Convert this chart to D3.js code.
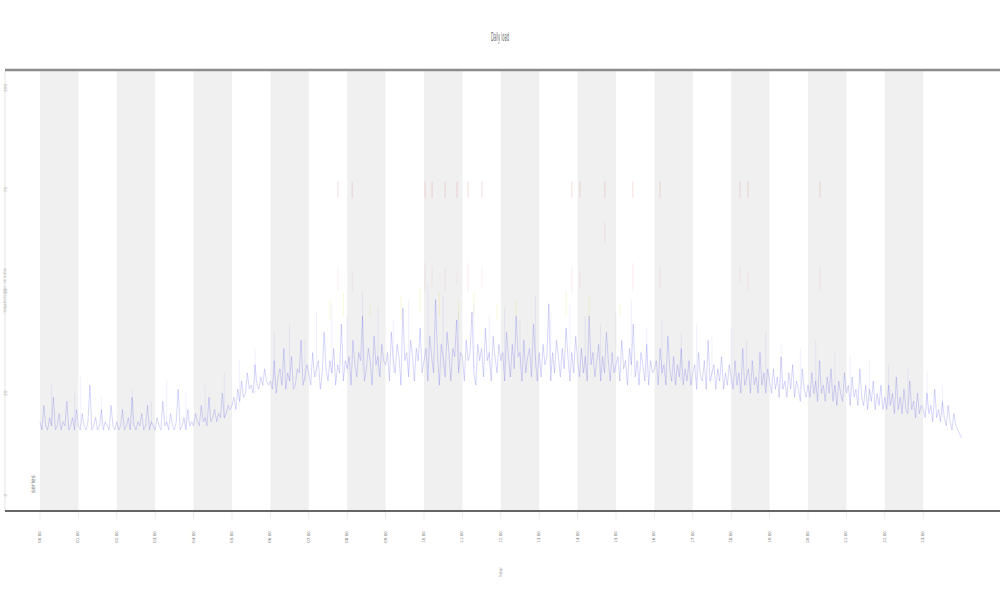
<!DOCTYPE html>
<html>
<head>
<meta charset="utf-8">
<script src="https://cdn.jsdelivr.net/npm/d3@7"></script>
<style>
  body { margin: 0; background: #fff; }
  text { font-family: "DejaVu Sans", sans-serif; fill: #444; }
</style>
</head>
<body>
<div id="chart"></div>
<script>
// tamaño del lienzo
var chart_width = 1000;
var chart_height = 600;

// categorias del eje x (horas)
var horas = d3.range(0, 24);
var etiquetasX = horas.map(function (h) { return (h < 10 ? "0" + h : h) + ":00"; });
var ticksY = [0, 25, 50, 75, 100];

// serie principal, 20 valores por hora
var serieAzul = [
  18,16,22,17,16,19,17,24,16,17,20,16,18,17,23,16,17,19,16,21,
  17,16,20,17,16,18,27,16,17,19,16,17,21,16,18,17,16,22,17,16,
  18,16,17,21,16,17,19,16,24,17,16,18,17,20,16,17,22,16,18,17,
  16,19,17,16,23,17,18,16,20,17,16,18,26,16,17,19,16,21,17,18,
  17,20,18,17,22,18,19,17,24,18,19,21,18,20,19,25,19,20,22,21,
  22,24,21,26,23,28,24,25,30,26,27,25,32,27,26,29,27,31,28,27,
  28,26,33,25,29,31,27,36,26,30,28,34,26,27,31,30,38,27,29,32,
  30,27,35,29,31,33,26,30,40,31,28,33,30,36,27,32,30,42,28,33,
  31,34,27,38,32,29,35,33,44,28,31,36,33,27,39,32,34,29,37,33,
  32,35,28,40,33,30,37,34,27,46,33,35,29,38,34,28,36,33,41,30,
  33,36,28,39,34,30,48,35,27,37,34,29,40,35,28,36,34,43,30,35,
  34,28,38,33,35,45,30,27,37,33,36,29,41,33,35,28,39,34,30,37,
  33,35,28,40,34,29,37,31,44,34,35,28,38,30,34,36,29,42,34,28,
  35,29,37,32,34,47,28,35,30,38,34,29,36,31,41,34,28,35,30,39,
  33,29,36,30,34,28,44,32,35,29,33,37,28,34,30,40,33,28,35,30,
  32,34,28,38,31,33,27,36,32,42,29,33,27,35,32,28,37,27,33,30,
  31,33,27,36,30,32,27,39,31,28,34,27,32,29,36,27,31,28,33,27,
  30,32,26,35,29,28,33,26,38,28,30,32,26,31,28,34,26,30,27,32,
  29,26,33,27,30,25,36,27,29,31,25,33,27,29,25,35,27,30,25,31,
  28,25,31,26,29,24,34,26,28,24,30,26,32,24,28,26,23,31,26,24,
  27,24,30,25,28,23,33,25,27,23,29,25,31,23,27,22,28,25,23,30,
  25,27,22,29,24,26,22,31,24,22,27,21,26,23,28,21,25,22,27,21,
  24,21,27,22,25,20,29,21,24,20,26,21,20,28,21,23,19,25,20,22,
  21,19,25,20,22,18,26,19,21,18,23,19,17,22,18,16,20,17,16,15,
  14
];

// picos tenues de la serie azul (hora, valor base, valor alto)
var picoHora = [0.3, 0.9, 1.05, 1.6, 2.4, 2.9, 3.3, 3.8, 4.3, 4.8, 5.2, 5.6, 6.1, 6.5, 6.9, 7.2, 7.6, 8.0, 8.4, 8.8,
  9.2, 9.6, 10.1, 10.5, 10.9, 11.3, 11.7, 12.1, 12.5, 12.9, 13.3, 13.8, 14.2, 14.6, 15.0, 15.4, 15.8, 16.2, 16.7, 17.1,
  17.5, 18.0, 18.4, 18.9, 19.3, 19.8, 20.2, 20.7, 21.1, 21.6, 22.1, 22.6, 23.1, 23.5];
var picoBase = [17, 17, 17, 17, 17, 17, 17, 17, 18, 19, 22, 25, 27, 28, 28, 29, 29, 30, 30, 30,
  30, 30, 31, 31, 31, 31, 31, 31, 31, 31, 31, 30, 30, 30, 30, 29, 29, 29, 28, 28,
  28, 27, 27, 27, 26, 26, 25, 25, 24, 23, 22, 22, 21, 19];
var picoAlto = [27, 25, 29, 24, 26, 23, 28, 25, 27, 30, 33, 36, 40, 42, 38, 45, 47, 44, 50, 46,
  43, 48, 52, 49, 45, 47, 44, 46, 43, 49, 45, 47, 44, 42, 45, 48, 41, 43, 40, 42,
  39, 41, 38, 40, 37, 36, 38, 35, 34, 33, 32, 31, 30, 27];

// picos rojos (hora, valor bajo, valor alto)
var rojoHora = [7.76, 8.13, 10.03, 10.21, 10.55, 10.86, 11.15, 11.51, 13.85, 14.06, 14.71, 15.44, 16.15, 18.23, 18.44, 20.31];
var rojoAltoMin = [73, 73, 73, 73, 73, 73, 73, 73, 73, 73, 73, 73, 73, 73, 73, 73];
var rojoAltoMax = [77, 77, 77, 77, 77, 77, 77, 77, 77, 77, 77, 77, 77, 77, 77, 77];
var rojoBajoMin = [50, 50, 50, 51, 50, 52, 50, 51, 50, 51, 62, 50, 51, 52, 50, 50];
var rojoBajoMax = [56, 55, 57, 56, 56, 55, 57, 56, 56, 55, 67, 57, 56, 56, 55, 56];

// picos amarillos
var amarilloHora = [7.55, 7.9, 8.6, 9.4, 9.9, 10.4, 10.9, 11.3, 11.9, 12.4, 13.7, 14.3, 15.1];
var amarilloMin = [43, 44, 44, 43, 45, 44, 43, 44, 43, 44, 44, 43, 44];
var amarilloMax = [48, 50, 47, 49, 51, 50, 48, 50, 47, 48, 50, 49, 47];

var svg = d3.select("#chart")
  .append("svg")
  .attr("width", chart_width)
  .attr("height", chart_height);

var escalaX = d3.scaleLinear()
  .domain([-0.911, 25])
  .range([5, 1000]);

var escalaY = d3.scaleLinear()
  .domain([0, 100])
  .range([495, 88]);

var top_y = 71;
var bottom_y = 511;

// bandas grises alternas
svg.append("g")
  .selectAll("rect")
  .data(horas.filter(function (h) { return h % 2 == 0; }))
  .enter()
  .append("rect")
  .attr("x", function (d) { return escalaX(d); })
  .attr("width", function (d) { return escalaX(d + 1) - escalaX(d); })
  .attr("y", top_y)
  .attr("height", bottom_y - top_y)
  .style("fill", "#f0f0f0");

// eje izquierdo tenue
svg.append("line")
  .attr("x1", 5).attr("x2", 5)
  .attr("y1", top_y).attr("y2", bottom_y)
  .style("stroke", "#e4e4e4")
  .style("stroke-width", 1);

// picos tenues
svg.append("g")
  .selectAll("line")
  .data(picoHora)
  .enter()
  .append("line")
  .attr("x1", function (d) { return escalaX(d); })
  .attr("x2", function (d) { return escalaX(d); })
  .attr("y1", function (d, i) { return escalaY(picoBase[i]); })
  .attr("y2", function (d, i) { return escalaY(picoAlto[i]); })
  .style("stroke", "#8080f0")
  .style("stroke-opacity", 0.2)
  .style("stroke-width", 0.6);

// serie azul
var line = d3.line()
  .x(function (d, i) { return escalaX(i / 20); })
  .y(function (d) { return escalaY(d); });

svg.append("path")
  .datum(serieAzul)
  .attr("fill", "none")
  .attr("stroke", "#6262ec")
  .attr("stroke-opacity", 0.34)
  .attr("stroke-width", 0.75)
  .attr("d", line);

// picos rojos
var rojos = svg.append("g");
rojos.selectAll(".alto")
  .data(rojoHora)
  .enter()
  .append("line")
  .attr("x1", function (d) { return escalaX(d); })
  .attr("x2", function (d) { return escalaX(d); })
  .attr("y1", function (d, i) { return escalaY(rojoAltoMin[i]); })
  .attr("y2", function (d, i) { return escalaY(rojoAltoMax[i]); })
  .style("stroke", "#e07070")
  .style("stroke-opacity", 0.35)
  .style("stroke-width", 0.7);

rojos.selectAll(".bajo")
  .data(rojoHora)
  .enter()
  .append("line")
  .attr("x1", function (d) { return escalaX(d); })
  .attr("x2", function (d) { return escalaX(d); })
  .attr("y1", function (d, i) { return escalaY(rojoBajoMin[i]); })
  .attr("y2", function (d, i) { return escalaY(rojoBajoMax[i]); })
  .style("stroke", "#e09090")
  .style("stroke-opacity", 0.22)
  .style("stroke-width", 0.7);

// picos amarillos
svg.append("g")
  .selectAll("line")
  .data(amarilloHora)
  .enter()
  .append("line")
  .attr("x1", function (d) { return escalaX(d); })
  .attr("x2", function (d) { return escalaX(d); })
  .attr("y1", function (d, i) { return escalaY(amarilloMin[i]); })
  .attr("y2", function (d, i) { return escalaY(amarilloMax[i]); })
  .style("stroke", "#e8d850")
  .style("stroke-opacity", 0.3)
  .style("stroke-width", 0.7);

// linea superior y eje inferior
svg.append("line")
  .attr("x1", 5).attr("x2", 1000)
  .attr("y1", 70).attr("y2", 70)
  .style("stroke", "#8c8c8c")
  .style("stroke-width", 2.5);

svg.append("line")
  .attr("x1", 5).attr("x2", 1000)
  .attr("y1", bottom_y).attr("y2", bottom_y)
  .style("stroke", "#333")
  .style("stroke-width", 1.6);

// ticks eje x
var ejeX = svg.append("g");
ejeX.selectAll("line")
  .data(horas)
  .enter()
  .append("line")
  .attr("x1", function (d) { return escalaX(d); })
  .attr("x2", function (d) { return escalaX(d); })
  .attr("y1", bottom_y + 1)
  .attr("y2", bottom_y + 8)
  .style("stroke", "#ddd")
  .style("stroke-width", 0.6);

ejeX.selectAll("text")
  .data(horas)
  .enter()
  .append("text")
  .text(function (d, i) { return etiquetasX[i]; })
  .attr("transform", function (d) { return "translate(" + (escalaX(d) + 1) + ",537) rotate(-90)"; })
  .style("text-anchor", "middle")
  .style("font-size", "4px")
  .style("fill", "#777");

// ticks eje y
svg.append("g")
  .selectAll("text")
  .data(ticksY)
  .enter()
  .append("text")
  .text(function (d) { return d; })
  .attr("transform", function (d) { return "translate(7," + escalaY(d) + ") rotate(-90)"; })
  .style("text-anchor", "middle")
  .style("font-size", "4.5px")
  .style("fill", "#bbb");

// titulo del eje y
svg.append("text")
  .text("requests per minute")
  .attr("transform", "translate(6,291) rotate(-90)")
  .style("text-anchor", "middle")
  .style("font-size", "4.5px")
  .style("fill", "#bbb");

// titulo del eje x
svg.append("text")
  .text("hour")
  .attr("transform", "translate(502,572) rotate(-90)")
  .style("text-anchor", "middle")
  .style("font-size", "4.5px")
  .style("fill", "#999");

// titulo
svg.append("text")
  .text("Daily load")
  .attr("transform", "translate(500,41) scale(0.3,1)")
  .style("text-anchor", "middle")
  .style("font-size", "12px")
  .style("fill", "#666");

// leyenda
svg.append("text")
  .text("series")
  .attr("transform", "translate(35,484) rotate(-90)")
  .style("text-anchor", "middle")
  .style("font-size", "6px")
  .style("fill", "#777");
</script>
</body>
</html>
